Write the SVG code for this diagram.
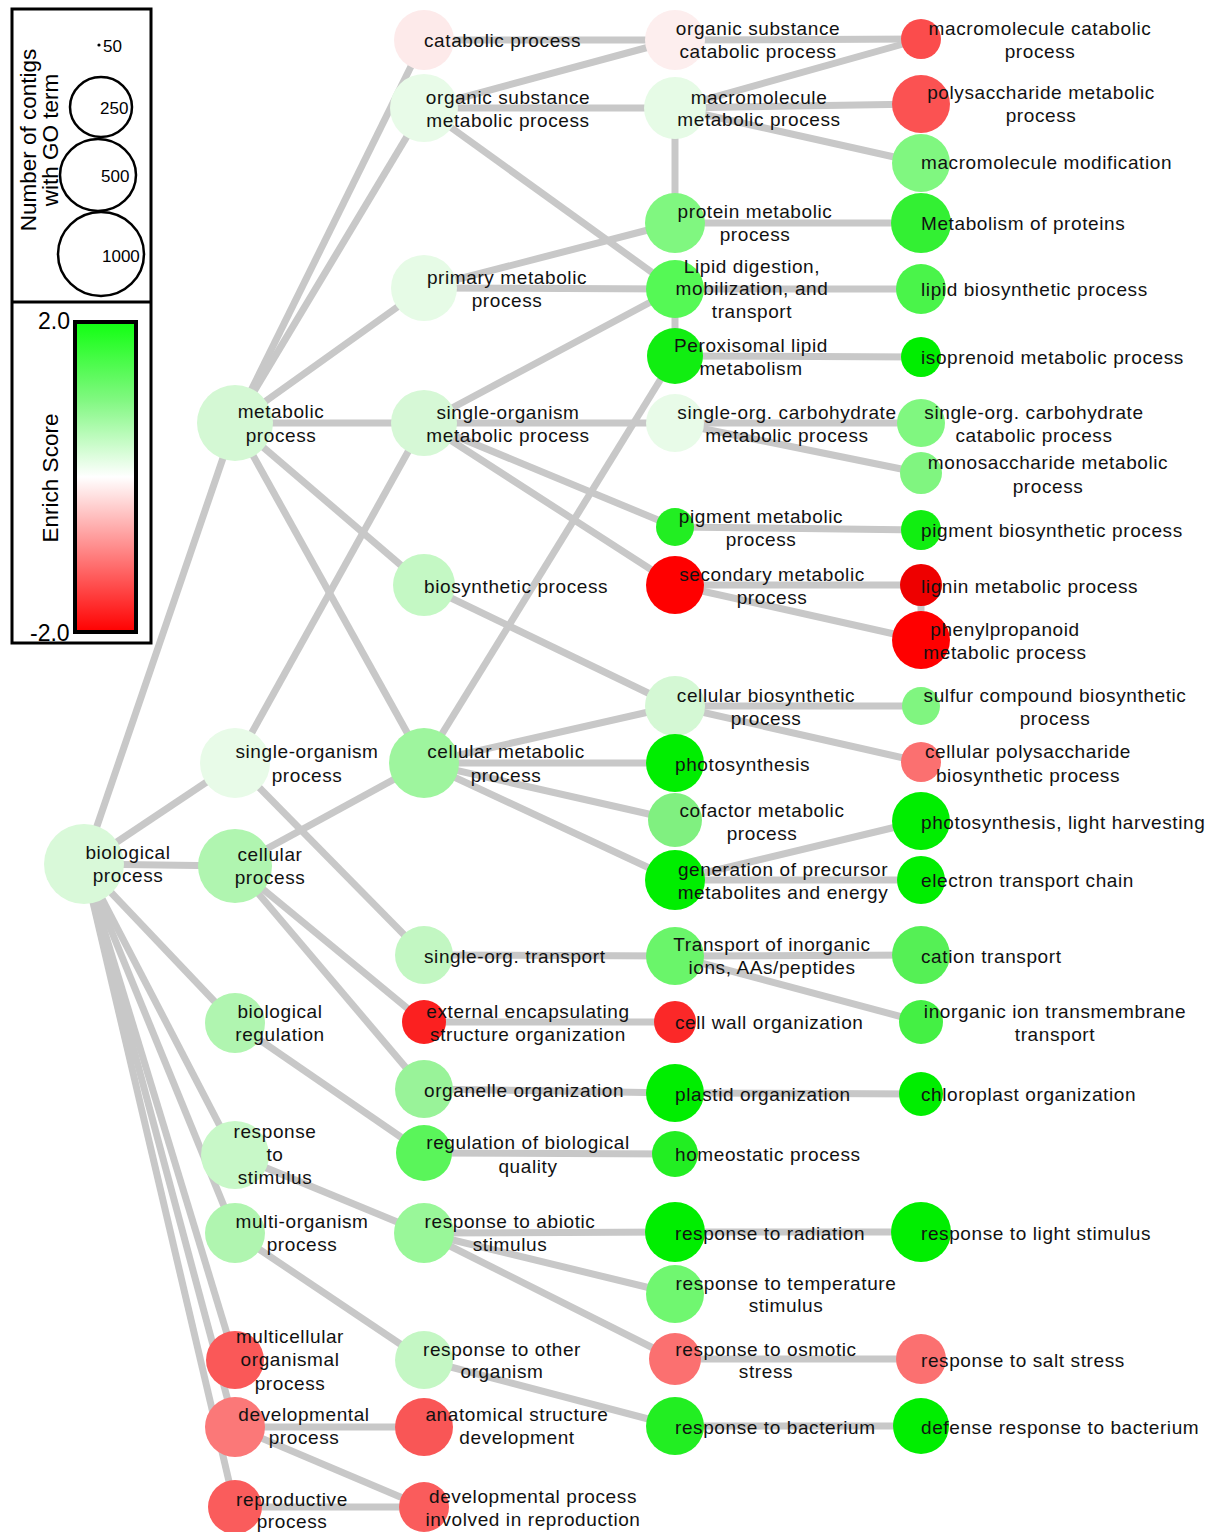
<svg xmlns="http://www.w3.org/2000/svg" width="1220" height="1532" viewBox="0 0 1220 1532">
<defs>
<linearGradient id="es" x1="0" y1="0" x2="0" y2="1">
<stop offset="0" stop-color="#11ff11"/>
<stop offset="0.25" stop-color="#80f880"/>
<stop offset="0.5" stop-color="#ffffff"/>
<stop offset="0.75" stop-color="#ff8080"/>
<stop offset="1" stop-color="#ff0000"/>
</linearGradient>
<style>
.e{stroke:#c8c8c8;stroke-width:7;fill:none;stroke-linecap:butt}
.l{font-family:"Liberation Sans",Arial,sans-serif;font-size:19px;letter-spacing:0.6px;fill:#111}
.m{text-anchor:middle}
.lg{font-family:"Liberation Sans",Arial,sans-serif;fill:#000}
.lc{fill:none;stroke:#000;stroke-width:2.5}
</style>
</defs>
<rect width="1220" height="1532" fill="#fff"/>

<g id="legend">
<rect x="12" y="9" width="139" height="634" fill="none" stroke="#000" stroke-width="3"/>
<line x1="12" y1="302" x2="151" y2="302" stroke="#000" stroke-width="3"/>
<text class="lg" font-size="22.5" transform="translate(36,140) rotate(-90)" text-anchor="middle">Number of contigs</text>
<text class="lg" font-size="22.5" transform="translate(58,140) rotate(-90)" text-anchor="middle">with GO term</text>
<circle cx="99" cy="45" r="1.6" fill="#000"/>
<text class="lg" font-size="17" x="103" y="52">50</text>
<ellipse class="lc" cx="101" cy="107" rx="31" ry="30"/>
<text class="lg" font-size="17" x="100" y="114">250</text>
<ellipse class="lc" cx="98" cy="175" rx="38" ry="36"/>
<text class="lg" font-size="17" x="101" y="182">500</text>
<ellipse class="lc" cx="101" cy="254" rx="43" ry="42"/>
<text class="lg" font-size="17" x="102" y="262">1000</text>
<rect x="75" y="322" width="61" height="310" fill="url(#es)" stroke="#000" stroke-width="4"/>
<text class="lg" font-size="23" x="38" y="329">2.0</text>
<text class="lg" font-size="23" x="30" y="641">-2.0</text>
<text class="lg" font-size="22.5" transform="translate(58,478) rotate(-90)" text-anchor="middle">Enrich Score</text>
</g>

<g id="edges">
<line class="e" x1="84" y1="864" x2="235" y2="423"/>
<line class="e" x1="84" y1="864" x2="235" y2="763"/>
<line class="e" x1="84" y1="864" x2="235" y2="866"/>
<line class="e" x1="84" y1="864" x2="235" y2="1023"/>
<line class="e" x1="84" y1="864" x2="235" y2="1155"/>
<line class="e" x1="84" y1="864" x2="235" y2="1233"/>
<line class="e" x1="84" y1="864" x2="235" y2="1360"/>
<line class="e" x1="84" y1="864" x2="235" y2="1427"/>
<line class="e" x1="84" y1="864" x2="235" y2="1507"/>
<line class="e" x1="235" y1="423" x2="424" y2="40"/>
<line class="e" x1="235" y1="423" x2="424" y2="108"/>
<line class="e" x1="235" y1="423" x2="424" y2="288"/>
<line class="e" x1="235" y1="423" x2="424" y2="423"/>
<line class="e" x1="235" y1="423" x2="424" y2="585"/>
<line class="e" x1="235" y1="423" x2="424" y2="763"/>
<line class="e" x1="235" y1="763" x2="424" y2="423"/>
<line class="e" x1="235" y1="763" x2="424" y2="955"/>
<line class="e" x1="235" y1="866" x2="424" y2="763"/>
<line class="e" x1="235" y1="866" x2="424" y2="1022"/>
<line class="e" x1="235" y1="866" x2="424" y2="1089"/>
<line class="e" x1="235" y1="1023" x2="424" y2="1153"/>
<line class="e" x1="235" y1="1155" x2="424" y2="1233"/>
<line class="e" x1="235" y1="1233" x2="424" y2="1360"/>
<line class="e" x1="235" y1="1427" x2="424" y2="1427"/>
<line class="e" x1="235" y1="1427" x2="424" y2="1507"/>
<line class="e" x1="235" y1="1507" x2="424" y2="1507"/>
<line class="e" x1="424" y1="40" x2="675" y2="40"/>
<line class="e" x1="424" y1="108" x2="675" y2="40"/>
<line class="e" x1="424" y1="108" x2="675" y2="108"/>
<line class="e" x1="424" y1="108" x2="675" y2="289"/>
<line class="e" x1="424" y1="288" x2="675" y2="223"/>
<line class="e" x1="424" y1="288" x2="675" y2="289"/>
<line class="e" x1="424" y1="423" x2="675" y2="289"/>
<line class="e" x1="424" y1="423" x2="675" y2="423"/>
<line class="e" x1="424" y1="423" x2="675" y2="527"/>
<line class="e" x1="424" y1="423" x2="675" y2="585"/>
<line class="e" x1="424" y1="585" x2="675" y2="706"/>
<line class="e" x1="424" y1="763" x2="675" y2="356"/>
<line class="e" x1="424" y1="763" x2="675" y2="706"/>
<line class="e" x1="424" y1="763" x2="675" y2="763"/>
<line class="e" x1="424" y1="763" x2="675" y2="820"/>
<line class="e" x1="424" y1="763" x2="675" y2="880"/>
<line class="e" x1="424" y1="955" x2="675" y2="956"/>
<line class="e" x1="424" y1="1022" x2="675" y2="1022"/>
<line class="e" x1="424" y1="1089" x2="675" y2="1093"/>
<line class="e" x1="424" y1="1153" x2="675" y2="1154"/>
<line class="e" x1="424" y1="1233" x2="675" y2="1232"/>
<line class="e" x1="424" y1="1233" x2="675" y2="1294"/>
<line class="e" x1="424" y1="1233" x2="675" y2="1359"/>
<line class="e" x1="424" y1="1360" x2="675" y2="1426"/>
<line class="e" x1="675" y1="108" x2="675" y2="223"/>
<line class="e" x1="675" y1="289" x2="675" y2="356"/>
<line class="e" x1="675" y1="40" x2="921" y2="39"/>
<line class="e" x1="675" y1="108" x2="921" y2="39"/>
<line class="e" x1="675" y1="108" x2="921" y2="104"/>
<line class="e" x1="675" y1="108" x2="921" y2="163"/>
<line class="e" x1="675" y1="223" x2="921" y2="223"/>
<line class="e" x1="675" y1="289" x2="921" y2="289"/>
<line class="e" x1="675" y1="356" x2="921" y2="357"/>
<line class="e" x1="675" y1="423" x2="921" y2="423"/>
<line class="e" x1="675" y1="423" x2="921" y2="473"/>
<line class="e" x1="675" y1="527" x2="921" y2="530"/>
<line class="e" x1="675" y1="585" x2="921" y2="585"/>
<line class="e" x1="675" y1="585" x2="921" y2="640"/>
<line class="e" x1="921" y1="585" x2="921" y2="640"/>
<line class="e" x1="675" y1="706" x2="921" y2="706"/>
<line class="e" x1="675" y1="706" x2="921" y2="762"/>
<line class="e" x1="675" y1="880" x2="921" y2="821"/>
<line class="e" x1="675" y1="880" x2="921" y2="880"/>
<line class="e" x1="675" y1="956" x2="921" y2="955"/>
<line class="e" x1="675" y1="956" x2="921" y2="1022"/>
<line class="e" x1="675" y1="1093" x2="921" y2="1094"/>
<line class="e" x1="675" y1="1232" x2="921" y2="1232"/>
<line class="e" x1="675" y1="1359" x2="921" y2="1359"/>
<line class="e" x1="675" y1="1426" x2="921" y2="1426"/>
</g>

<g id="n-bp"><circle cx="84" cy="864" r="40" fill="#d9f9d9"/><text class="l m"><tspan x="128" y="859">biological</tspan><tspan x="128" y="882">process</tspan></text></g>

<g id="n-mp"><circle cx="235" cy="423" r="38" fill="#d4f8d4"/><text class="l m"><tspan x="281" y="418">metabolic</tspan><tspan x="281" y="442">process</tspan></text></g>
<g id="n-sop"><circle cx="235" cy="763" r="35" fill="#e8fbe8"/><text class="l m"><tspan x="307" y="758">single-organism</tspan><tspan x="307" y="782">process</tspan></text></g>
<g id="n-cp"><circle cx="235" cy="866" r="37" fill="#b0f5b0"/><text class="l m"><tspan x="270" y="861">cellular</tspan><tspan x="270" y="884">process</tspan></text></g>
<g id="n-br"><circle cx="235" cy="1023" r="30" fill="#b0f5b0"/><text class="l m"><tspan x="280" y="1018">biological</tspan><tspan x="280" y="1041">regulation</tspan></text></g>
<g id="n-rts"><circle cx="235" cy="1155" r="34" fill="#c8f8c8"/><text class="l m"><tspan x="275" y="1138">response</tspan><tspan x="275" y="1161">to</tspan><tspan x="275" y="1184">stimulus</tspan></text></g>
<g id="n-mop"><circle cx="235" cy="1233" r="30" fill="#b0f5b0"/><text class="l m"><tspan x="302" y="1228">multi-organism</tspan><tspan x="302" y="1251">process</tspan></text></g>
<g id="n-mcop"><circle cx="235" cy="1360" r="29" fill="#fa5858"/><text class="l m"><tspan x="290" y="1343">multicellular</tspan><tspan x="290" y="1366">organismal</tspan><tspan x="290" y="1390">process</tspan></text></g>
<g id="n-dp"><circle cx="235" cy="1427" r="30" fill="#fb7878"/><text class="l m"><tspan x="304" y="1421">developmental</tspan><tspan x="304" y="1444">process</tspan></text></g>
<g id="n-rp"><circle cx="235" cy="1507" r="27" fill="#fa5c5c"/><text class="l m"><tspan x="292" y="1506">reproductive</tspan><tspan x="292" y="1528">process</tspan></text></g>

<g id="n-cat"><circle cx="424" cy="40" r="30" fill="#fdeaea"/><text class="l" x="424" y="47">catabolic process</text></g>
<g id="n-osm"><circle cx="424" cy="108" r="34" fill="#e8fbe8"/><text class="l m"><tspan x="508" y="104">organic substance</tspan><tspan x="508" y="127">metabolic process</tspan></text></g>
<g id="n-pmp"><circle cx="424" cy="288" r="33" fill="#e6fbe6"/><text class="l m"><tspan x="507" y="284">primary metabolic</tspan><tspan x="507" y="307">process</tspan></text></g>
<g id="n-somp"><circle cx="424" cy="423" r="33" fill="#d6f8d6"/><text class="l m"><tspan x="508" y="419">single-organism</tspan><tspan x="508" y="442">metabolic process</tspan></text></g>
<g id="n-bsp"><circle cx="424" cy="585" r="31" fill="#c4f8c4"/><text class="l" x="424" y="593">biosynthetic process</text></g>
<g id="n-cmp"><circle cx="424" cy="763" r="35" fill="#9ef59e"/><text class="l m"><tspan x="506" y="758">cellular metabolic</tspan><tspan x="506" y="782">process</tspan></text></g>
<g id="n-sot"><circle cx="424" cy="955" r="29" fill="#c2f7c2"/><text class="l" x="424" y="963">single-org. transport</text></g>
<g id="n-eeso"><circle cx="424" cy="1022" r="22" fill="#fb2020"/><text class="l m"><tspan x="528" y="1018">external encapsulating</tspan><tspan x="528" y="1041">structure organization</tspan></text></g>
<g id="n-oo"><circle cx="424" cy="1089" r="29" fill="#99f399"/><text class="l" x="424" y="1097">organelle organization</text></g>
<g id="n-rbq"><circle cx="424" cy="1153" r="28" fill="#5af55a"/><text class="l m"><tspan x="528" y="1149">regulation of biological</tspan><tspan x="528" y="1173">quality</tspan></text></g>
<g id="n-rab"><circle cx="424" cy="1233" r="30" fill="#99f799"/><text class="l m"><tspan x="510" y="1228">response to abiotic</tspan><tspan x="510" y="1251">stimulus</tspan></text></g>
<g id="n-roo"><circle cx="424" cy="1360" r="29" fill="#c4f7c4"/><text class="l m"><tspan x="502" y="1356">response to other</tspan><tspan x="502" y="1378">organism</tspan></text></g>
<g id="n-asd"><circle cx="424" cy="1427" r="29" fill="#f95656"/><text class="l m"><tspan x="517" y="1421">anatomical structure</tspan><tspan x="517" y="1444">development</tspan></text></g>
<g id="n-dpir"><circle cx="424" cy="1507" r="25" fill="#fa5c5c"/><text class="l m"><tspan x="533" y="1503">developmental process</tspan><tspan x="533" y="1526">involved in reproduction</tspan></text></g>

<g id="n-osc"><circle cx="675" cy="40" r="30" fill="#fdeeee"/><text class="l m"><tspan x="758" y="35">organic substance</tspan><tspan x="758" y="58">catabolic process</tspan></text></g>
<g id="n-mmp"><circle cx="675" cy="108" r="31" fill="#e6fbe6"/><text class="l m"><tspan x="759" y="104">macromolecule</tspan><tspan x="759" y="126">metabolic process</tspan></text></g>
<g id="n-prot"><circle cx="675" cy="223" r="30" fill="#80f780"/><text class="l m"><tspan x="755" y="218">protein metabolic</tspan><tspan x="755" y="241">process</tspan></text></g>
<g id="n-lip"><circle cx="675" cy="289" r="29" fill="#55f955"/><text class="l m"><tspan x="752" y="273">Lipid digestion,</tspan><tspan x="752" y="295">mobilization, and</tspan><tspan x="752" y="318">transport</tspan></text></g>
<g id="n-per"><circle cx="675" cy="356" r="28" fill="#11ee11"/><text class="l m"><tspan x="751" y="352">Peroxisomal lipid</tspan><tspan x="751" y="375">metabolism</tspan></text></g>
<g id="n-socm"><circle cx="675" cy="423" r="29" fill="#e8fbe8"/><text class="l m"><tspan x="787" y="419">single-org. carbohydrate</tspan><tspan x="787" y="442">metabolic process</tspan></text></g>
<g id="n-pig"><circle cx="675" cy="527" r="19" fill="#22ee22"/><text class="l m"><tspan x="761" y="523">pigment metabolic</tspan><tspan x="761" y="546">process</tspan></text></g>
<g id="n-sec"><circle cx="675" cy="585" r="29" fill="#ff0000"/><text class="l m"><tspan x="772" y="581">secondary metabolic</tspan><tspan x="772" y="604">process</tspan></text></g>
<g id="n-cbs"><circle cx="675" cy="706" r="30" fill="#d4f8d4"/><text class="l m"><tspan x="766" y="702">cellular biosynthetic</tspan><tspan x="766" y="725">process</tspan></text></g>
<g id="n-ps"><circle cx="675" cy="763" r="29" fill="#00ee00"/><text class="l" x="675" y="771">photosynthesis</text></g>
<g id="n-cof"><circle cx="675" cy="820" r="27" fill="#80f080"/><text class="l m"><tspan x="762" y="817">cofactor metabolic</tspan><tspan x="762" y="840">process</tspan></text></g>
<g id="n-gen"><circle cx="675" cy="880" r="30" fill="#00ee00"/><text class="l m"><tspan x="783" y="876">generation of precursor</tspan><tspan x="783" y="899">metabolites and energy</tspan></text></g>
<g id="n-tio"><circle cx="675" cy="956" r="29" fill="#6af56a"/><text class="l m"><tspan x="772" y="951">Transport of inorganic</tspan><tspan x="772" y="974">ions, AAs/peptides</tspan></text></g>
<g id="n-cwo"><circle cx="675" cy="1022" r="21" fill="#fb2828"/><text class="l" x="675" y="1029">cell wall organization</text></g>
<g id="n-plo"><circle cx="675" cy="1093" r="29" fill="#00ee00"/><text class="l" x="675" y="1101">plastid organization</text></g>
<g id="n-hom"><circle cx="675" cy="1154" r="23" fill="#22ee22"/><text class="l" x="675" y="1161">homeostatic process</text></g>
<g id="n-rrad"><circle cx="675" cy="1232" r="30" fill="#00ee00"/><text class="l" x="675" y="1240">response to radiation</text></g>
<g id="n-rtemp"><circle cx="675" cy="1294" r="29" fill="#70f770"/><text class="l m"><tspan x="786" y="1290">response to temperature</tspan><tspan x="786" y="1312">stimulus</tspan></text></g>
<g id="n-rosm"><circle cx="675" cy="1359" r="26" fill="#fb7070"/><text class="l m"><tspan x="766" y="1356">response to osmotic</tspan><tspan x="766" y="1378">stress</tspan></text></g>
<g id="n-rbac"><circle cx="675" cy="1426" r="29" fill="#22ee22"/><text class="l" x="675" y="1434">response to bacterium</text></g>

<g id="n-mcat"><circle cx="921" cy="39" r="20" fill="#fb4c4c"/><text class="l m"><tspan x="1040" y="35">macromolecule catabolic</tspan><tspan x="1040" y="58">process</tspan></text></g>
<g id="n-poly"><circle cx="921" cy="104" r="29" fill="#fb5252"/><text class="l m"><tspan x="1041" y="99">polysaccharide metabolic</tspan><tspan x="1041" y="122">process</tspan></text></g>
<g id="n-mmod"><circle cx="921" cy="163" r="29" fill="#80f780"/><text class="l" x="921" y="169">macromolecule modification</text></g>
<g id="n-mopr"><circle cx="921" cy="223" r="30" fill="#33f033"/><text class="l" x="921" y="230">Metabolism of proteins</text></g>
<g id="n-lbs"><circle cx="921" cy="289" r="25" fill="#4af44a"/><text class="l" x="921" y="296">lipid biosynthetic process</text></g>
<g id="n-iso"><circle cx="921" cy="357" r="20" fill="#00ee00"/><text class="l" x="921" y="364">isoprenoid metabolic process</text></g>
<g id="n-socc"><circle cx="921" cy="423" r="24" fill="#80f780"/><text class="l m"><tspan x="1034" y="419">single-org. carbohydrate</tspan><tspan x="1034" y="442">catabolic process</tspan></text></g>
<g id="n-mono"><circle cx="921" cy="473" r="21" fill="#80f580"/><text class="l m"><tspan x="1048" y="469">monosaccharide metabolic</tspan><tspan x="1048" y="493">process</tspan></text></g>
<g id="n-pbs"><circle cx="921" cy="530" r="20" fill="#11ee11"/><text class="l" x="921" y="537">pigment biosynthetic process</text></g>
<g id="n-lig"><circle cx="921" cy="585" r="21" fill="#ee0000"/><text class="l" x="921" y="593">lignin metabolic process</text></g>
<g id="n-phe"><circle cx="921" cy="640" r="29" fill="#ff0000"/><text class="l m"><tspan x="1005" y="636">phenylpropanoid</tspan><tspan x="1005" y="659">metabolic process</tspan></text></g>
<g id="n-sul"><circle cx="921" cy="706" r="19" fill="#80f580"/><text class="l m"><tspan x="1055" y="702">sulfur compound biosynthetic</tspan><tspan x="1055" y="725">process</tspan></text></g>
<g id="n-cpb"><circle cx="921" cy="762" r="20" fill="#fb7070"/><text class="l m"><tspan x="1028" y="758">cellular polysaccharide</tspan><tspan x="1028" y="782">biosynthetic process</tspan></text></g>
<g id="n-plh"><circle cx="921" cy="821" r="29" fill="#00ee00"/><text class="l" x="921" y="829">photosynthesis, light harvesting</text></g>
<g id="n-etc"><circle cx="921" cy="880" r="24" fill="#00ee00"/><text class="l" x="921" y="887">electron transport chain</text></g>
<g id="n-cat2"><circle cx="921" cy="955" r="29" fill="#55f055"/><text class="l" x="921" y="963">cation transport</text></g>
<g id="n-iit"><circle cx="921" cy="1022" r="22" fill="#44f044"/><text class="l m"><tspan x="1055" y="1018">inorganic ion transmembrane</tspan><tspan x="1055" y="1041">transport</tspan></text></g>
<g id="n-chl"><circle cx="921" cy="1094" r="22" fill="#00ee00"/><text class="l" x="921" y="1101">chloroplast organization</text></g>
<g id="n-rls"><circle cx="921" cy="1232" r="30" fill="#00ee00"/><text class="l" x="921" y="1240">response to light stimulus</text></g>
<g id="n-rss"><circle cx="921" cy="1359" r="25" fill="#fb7070"/><text class="l" x="921" y="1367">response to salt stress</text></g>
<g id="n-drb"><circle cx="921" cy="1426" r="28" fill="#00ee00"/><text class="l" x="921" y="1434">defense response to bacterium</text></g>
</svg>
